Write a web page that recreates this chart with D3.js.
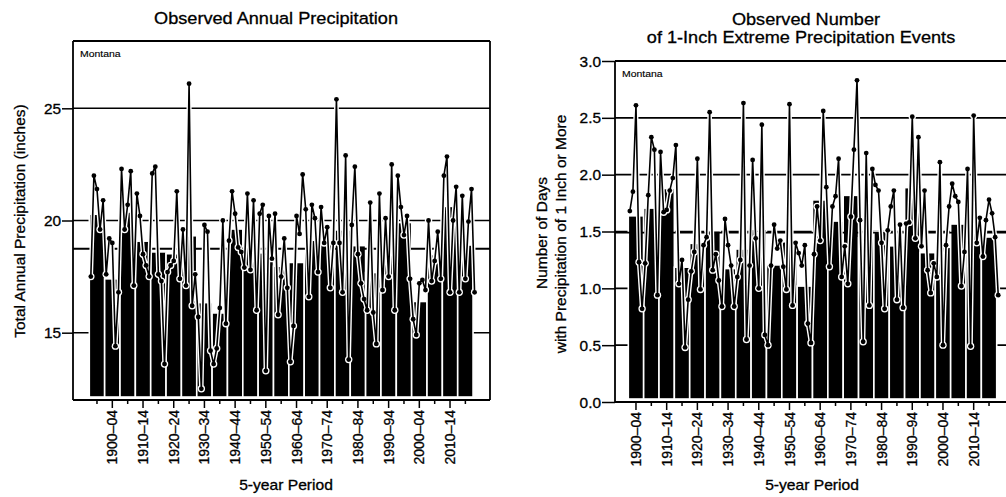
<!DOCTYPE html>
<html>
<head>
<meta charset="utf-8">
<script src="https://cdnjs.cloudflare.com/ajax/libs/d3/7.8.5/d3.min.js"></script>
<style>
body { margin: 0; background: #fff; }
svg { display: block; font-family: "Liberation Sans", Arial, sans-serif; }
svg text { stroke: #000; stroke-width: 0.3px; }
</style>
</head>
<body>
<svg id="chart" width="1006" height="497"></svg>
<script>
// 5-year periods (last one runs 2015-2020, six years)
var precipPeriods = ["1895–99","1900–04","1905–09","1910–14","1915–19","1920–24","1925–29","1930–34",
    "1935–39","1940–44","1945–49","1950–54","1955–59","1960–64","1965–69","1970–74","1975–79",
    "1980–84","1985–89","1990–94","1995–99","2000–04","2005–09","2010–14","2015–20"];
var extremePeriods = precipPeriods.slice(1);
var labeledPeriods = ["1900–04","1910–14","1920–24","1930–34","1940–44","1950–54","1960–64",
    "1970–74","1980–84","1990–94","2000–04","2010–14"];

// annual precipitation, inches, 1895-2020
var precipAnnual = [
    17.5, 22.0, 21.4, 19.6, 20.9,
    17.6, 19.2, 19.0, 14.4, 16.8,
    22.3, 19.6, 20.7, 22.2, 17.1,
    21.2, 20.2, 18.5, 18.0, 17.5,
    22.1, 22.4, 17.6, 17.3, 13.6,
    17.7, 18.0, 18.2, 21.3, 17.4,
    19.6, 17.1, 26.1, 16.2, 17.6,
    15.7, 12.5, 19.8, 19.5, 14.2,
    13.6, 14.3, 16.1, 20.0, 15.4,
    19.1, 21.3, 20.3, 18.8, 18.6,
    17.9, 21.2, 17.8, 20.9, 16.0,
    20.3, 20.7, 13.3, 20.2, 18.3,
    20.3, 15.8, 17.5, 19.2, 17.0,
    13.7, 15.3, 20.2, 19.4, 22.05,
    20.5, 16.6, 20.7, 20.1, 17.7,
    20.6, 19.0, 19.7, 17.0, 19.0,
    25.4, 19.0, 16.8, 22.9, 13.8,
    19.8, 22.4, 18.5, 17.2, 16.5,
    16.0, 20.8, 15.9, 14.5, 21.2,
    16.9, 20.1, 17.5, 22.5, 16.0,
    22.0, 20.6, 19.35, 20.2, 17.4,
    15.6, 14.9, 17.2, 17.35, 16.9,
    20.0, 17.3, 18.2, 19.5, 17.4,
    22.0, 22.85, 16.8, 20.0, 21.5,
    16.8, 21.1, 17.4, 19.95, 21.4, 16.8
];
var precipAvg = 18.74;
var precipTicks = [15, 20, 25];

// days with 1 inch or more, 1900-2020
var extremeAnnual = [
    1.68, 1.85, 2.61, 1.23, 0.82,
    1.22, 1.82, 2.33, 2.22, 0.94,
    2.20, 1.67, 1.69, 1.86, 1.97,
    2.26, 1.04, 1.25, 0.48, 0.90,
    1.15, 1.32, 2.14, 0.99, 1.38,
    1.45, 2.55, 1.16, 1.30, 1.07,
    0.84, 1.61, 1.38, 1.20, 0.84,
    1.10, 1.25, 2.63, 0.55, 1.20,
    2.13, 1.44, 1.00, 2.44, 0.59,
    0.50, 1.20, 1.56, 1.35, 1.42,
    1.19, 0.99, 2.62, 0.85, 1.40,
    1.31, 1.20, 1.38, 0.69, 0.52,
    1.30, 1.72, 1.42, 2.56, 1.89,
    1.19, 1.72, 1.81, 2.14, 1.10,
    1.37, 1.04, 1.63, 2.22, 2.83,
    1.60, 0.53, 2.19, 0.85, 2.05,
    1.91, 1.86, 1.40, 0.82, 1.51,
    1.72, 1.86, 0.90, 1.56, 0.83,
    1.57, 1.58, 2.51, 1.44, 2.33,
    1.37, 1.86, 1.16, 0.96, 1.22,
    1.10, 2.11, 0.50, 1.38, 1.72,
    1.92, 1.81, 1.76, 1.02, 1.32,
    2.05, 0.49, 2.52, 1.40, 1.62,
    1.28, 1.60, 1.78, 1.66, 1.45, 0.94
];
var extremeAvg = 1.49;
var extremeTicks = [0, 0.5, 1.0, 1.5, 2.0, 2.5, 3.0];

var svg = d3.select('#chart');
svg.append('rect').attr('width', 1006).attr('height', 497).attr('fill', '#fff');

var STRETCH = 1.1;   // the scanned text is a little wide

function periodValues(annual, n, k) {
    var s = k * 5;
    return annual.slice(s, k == n - 1 ? annual.length : s + 5);
}

function wideText(g, x, y, str, size, anchor) {
    return g.append('text')
        .attr('transform', 'translate(' + x + ',' + y + ') scale(' + STRETCH + ',1)')
        .attr('text-anchor', anchor || 'middle')
        .style('font-size', size + 'px')
        .text(str);
}

function drawPanel(o) {
    var g = svg.append('g');
    var n = o.periods.length;
    var x = d3.scaleBand().domain(o.periods)
        .range([o.left + o.padL, o.left + o.padL + n * o.step]);
    var y = d3.scaleLinear().domain(o.yDomain).range([o.bottom, o.top]);
    var sub = x.bandwidth() / 5;

    var pts = o.annual.map(function(v, i) {
        var k = Math.min(Math.floor(i / 5), n - 1);
        return { x: x(o.periods[k]) + (i - 5 * k + 0.5) * sub, y: y(v) };
    });

    // grid lines
    g.append('g').selectAll('line').data(o.grid).enter().append('line')
        .attr('x1', o.left).attr('x2', o.right)
        .attr('y1', function(d) { return y(d); }).attr('y2', function(d) { return y(d); })
        .attr('stroke', '#000').attr('stroke-width', 1.6);

    // 5-year averages
    g.append('g').selectAll('rect').data(o.periods).enter().append('rect')
        .attr('x', function(d) { return x(d); })
        .attr('width', x.bandwidth())
        .attr('y', function(d, k) { return y(d3.mean(periodValues(o.annual, n, k))); })
        .attr('height', function(d, k) { return o.bottom - 3 - y(d3.mean(periodValues(o.annual, n, k))); })
        .attr('fill', '#000').attr('stroke', '#fff').attr('stroke-width', 1.6);

    // long-term average
    g.append('line')
        .attr('x1', o.left).attr('x2', o.right)
        .attr('y1', y(o.avg)).attr('y2', y(o.avg))
        .attr('stroke', '#000').attr('stroke-width', 1.8);

    // annual values: white casing under black line and dots
    var line = d3.line().x(function(d) { return d.x; }).y(function(d) { return d.y; });
    g.append('path').datum(pts).attr('d', line)
        .attr('fill', 'none').attr('stroke', '#fff').attr('stroke-width', 4.4)
        .attr('stroke-linejoin', 'round');
    g.append('g').selectAll('circle').data(pts).enter().append('circle')
        .attr('cx', function(d) { return d.x; }).attr('cy', function(d) { return d.y; })
        .attr('r', 3.7).attr('fill', '#fff');
    g.append('path').datum(pts).attr('d', line)
        .attr('fill', 'none').attr('stroke', '#000').attr('stroke-width', 1.6)
        .attr('stroke-linejoin', 'round');
    g.append('g').selectAll('circle').data(pts).enter().append('circle')
        .attr('cx', function(d) { return d.x; }).attr('cy', function(d) { return d.y; })
        .attr('r', 2.4).attr('fill', '#000');

    // frame
    var frame = g.append('g').attr('fill', 'none').attr('stroke', '#000').attr('stroke-width', 1.8);
    frame.append('line').attr('x1', o.left).attr('x2', o.left).attr('y1', o.top).attr('y2', o.bottom);
    frame.append('line').attr('x1', o.left).attr('x2', o.right).attr('y1', o.bottom).attr('y2', o.bottom);
    frame.append('line').attr('x1', o.left).attr('x2', o.right).attr('y1', o.top).attr('y2', o.top);
    if (o.closed) frame.append('line').attr('x1', o.right).attr('x2', o.right).attr('y1', o.top).attr('y2', o.bottom);

    // y axis
    var ya = g.append('g').attr('transform', 'translate(' + o.left + ',0)')
        .call(d3.axisLeft(y).tickValues(o.yTicks).tickSize(o.yTickLen).tickSizeOuter(0).tickFormat(o.yFmt));
    ya.select('.domain').remove();
    ya.selectAll('line').attr('stroke-width', 1.5);
    ya.selectAll('text')
        .attr('x', -(o.yTickLen + 1) / STRETCH).attr('dy', '0.36em')
        .attr('transform', 'scale(' + STRETCH + ',1)')
        .style('font-size', '14px').attr('fill', '#000');

    // x axis
    var labeled = new Set(labeledPeriods);
    var xa = g.append('g').attr('transform', 'translate(0,' + o.bottom + ')')
        .call(d3.axisBottom(x).tickSize(4).tickSizeOuter(0)
            .tickFormat(function(d) { return labeled.has(d) ? d : ''; }));
    xa.select('.domain').remove();
    xa.selectAll('.tick line')
        .attr('y2', function(d) { return labeled.has(d) ? 8 : 4; })
        .attr('stroke-width', 1.5);
    xa.selectAll('text')
        .attr('transform', 'rotate(-90)')
        .attr('x', -10).attr('y', 0).attr('dy', '0.36em')
        .style('text-anchor', 'end').style('font-size', '14px').attr('fill', '#000');

    wideText(g, o.left + 7, o.top + 16, 'Montana', 9.5, 'start').style('stroke-width', '0.15px');

    o.title.forEach(function(t) { wideText(g, t[0], t[1], t[2], 16.5); });
    wideText(g, o.xTitle[0], o.xTitle[1], '5-year Period', 14.2);

    o.yTitle.forEach(function(t) {
        g.append('text')
            .attr('transform', 'translate(' + t[0] + ',' + t[1] + ') rotate(-90)')
            .attr('text-anchor', 'middle').style('font-size', '15.5px')
            .text(t[2]);
    });
}

drawPanel({
    periods: precipPeriods, annual: precipAnnual, avg: precipAvg,
    left: 73, right: 490, top: 41, bottom: 400, padL: 16.3, step: 15.35,
    yDomain: [12, 28], yTicks: precipTicks, grid: precipTicks, yTickLen: 11,
    yFmt: d3.format('d'), closed: true,
    title: [[276, 24, 'Observed Annual Precipitation']],
    xTitle: [286, 490],
    yTitle: [[25, 221, 'Total Annual Precipitation (inches)']]
});

drawPanel({
    periods: extremePeriods, annual: extremeAnnual, avg: extremeAvg,
    left: 615, right: 1030, top: 61, bottom: 402, padL: 13.3, step: 15.35,
    yDomain: [0, 3], yTicks: extremeTicks, grid: extremeTicks.slice(1, 6), yTickLen: 13,
    yFmt: d3.format('.1f'), closed: false,
    title: [[806, 25, 'Observed Number'], [801, 43, 'of 1-Inch Extreme Precipitation Events']],
    xTitle: [812, 490],
    yTitle: [[547, 233, 'Number of Days'], [566, 234, 'with Precipitation of 1 Inch or More']]
});
</script>
</body>
</html>
